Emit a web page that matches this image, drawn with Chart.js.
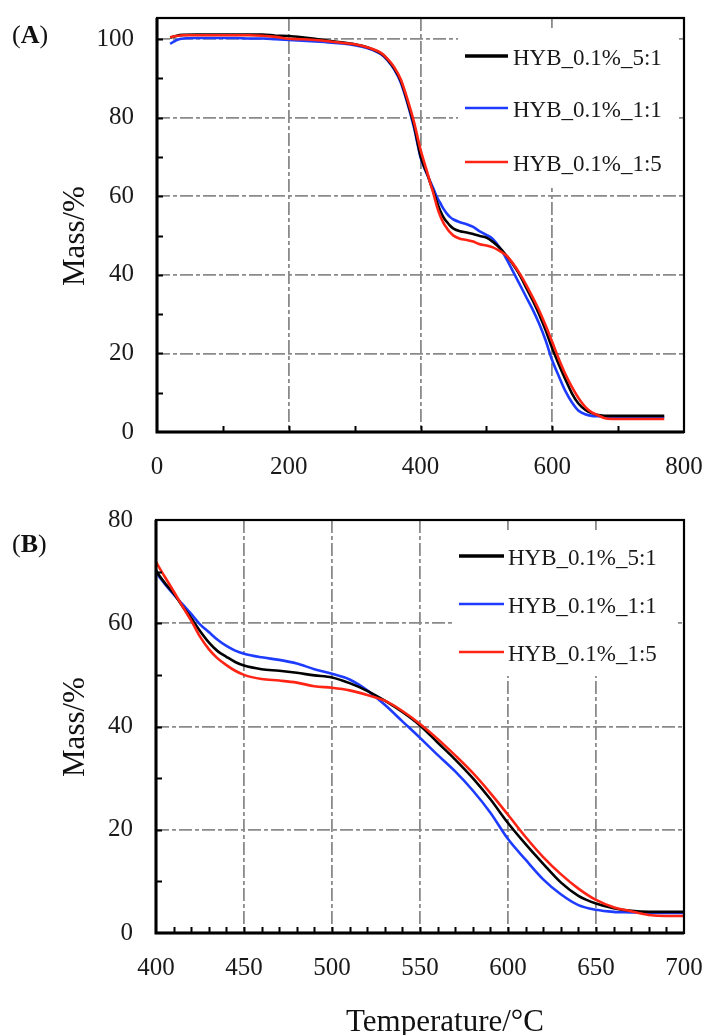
<!DOCTYPE html>
<html>
<head>
<meta charset="utf-8">
<script src="https://cdn.jsdelivr.net/npm/chart.js@4/dist/chart.umd.min.js"></script>
<style>
  html, body { margin: 0; padding: 0; background: #ffffff; }
  #wrap { position: relative; width: 707px; height: 1035px; overflow: hidden; }
  canvas { position: absolute; left: 0; }
</style>
</head>
<body>
<div id="wrap">
  <canvas id="chartA" width="707" height="490" style="top:0px"></canvas>
  <canvas id="chartB" width="707" height="545" style="top:490px"></canvas>
</div>
<script>
// TGA mass-loss curves of the three HYB_0.1% blends
const temperature = [20, 30, 40, 60, 80, 100, 120, 140, 160, 180, 200,
  220, 240, 260, 280, 300, 320, 340,
  350, 360, 370, 380, 390, 400,
  405, 410, 415, 420, 425, 430, 435, 440, 445, 450,
  460, 470, 480, 490, 500, 510, 520, 530, 540, 550,
  560, 570, 580, 590, 600, 610, 620, 630, 640, 650,
  660, 670, 680, 690, 700,
  720, 740, 770];

const mass51 = [100.4, 100.9, 101.1, 101.2, 101.2, 101.2, 101.2, 101.2, 101.2, 100.9, 100.8,
  100.5, 100.1, 99.6, 99.2, 98.7, 97.9, 96.4,
  94.8, 92.6, 89.4, 84.2, 78.2, 70.3,
  67.8, 65.8, 63.3, 61.0, 58.5, 56.3, 54.6, 53.5, 52.5, 51.8,
  51.1, 50.8, 50.4, 49.9, 49.5, 48.4, 46.9, 45.0, 42.8, 40.2,
  36.9, 33.6, 30.0, 25.9, 21.3, 17.2, 13.4, 9.8, 7.2, 5.7,
  4.8, 4.3, 4.1, 4.1, 4.1,
  4.1, 4.1, 4.1];

const mass11 = [98.8, 99.8, 100.2, 100.3, 100.3, 100.3, 100.3, 100.2, 100.2, 100.0, 99.8,
  99.6, 99.4, 99.2, 98.9, 98.5, 97.7, 96.2,
  94.6, 92.3, 89.0, 83.8, 77.6, 70.0,
  67.6, 65.6, 63.7, 61.8, 59.8, 58.3, 56.8, 55.6, 54.7, 54.1,
  53.4, 52.9, 52.2, 51.1, 50.2, 49.1, 47.0, 44.2, 41.0, 37.8,
  34.5, 31.3, 27.6, 23.3, 18.2, 14.2, 10.4, 7.5, 5.4, 4.5,
  4.1, 4.0, 3.9, 3.9, 3.9,
  3.8, 3.8, 3.8];

const mass15 = [100.5, 100.8, 101.0, 101.0, 101.0, 101.0, 101.0, 101.0, 100.9, 100.6, 100.1,
  100.0, 99.8, 99.5, 99.1, 98.7, 97.9, 96.5,
  95.0, 92.9, 89.8, 84.8, 79.0, 71.9,
  69.0, 66.2, 63.3, 60.5, 57.4, 55.0, 53.2, 51.9, 50.8, 50.0,
  49.2, 48.9, 48.5, 47.8, 47.5, 47.0, 46.1, 45.0, 43.0, 40.5,
  37.6, 34.4, 31.0, 27.1, 22.9, 18.6, 14.7, 11.4, 8.6, 6.4,
  5.0, 4.2, 3.5, 3.3, 3.3,
  3.3, 3.3, 3.3];

const seriesLabels = ['HYB_0.1%_5:1', 'HYB_0.1%_1:1', 'HYB_0.1%_1:5'];
const seriesColors = ['#000000', '#1e3cff', '#ff2414'];
const seriesMass = [mass51, mass11, mass15];
const drawOrder = [1, 2, 0];

// axis ticks of the two panels
const xTicksA = [0, 200, 400, 600, 800];
const yTicksA = [0, 20, 40, 60, 80, 100];
const xTicksB = [400, 450, 500, 550, 600, 650, 700];
const yTicksB = [0, 20, 40, 60, 80];

const yTitle = 'Mass/%';
const xTitle = 'Temperature/°C';

const serif = '"Liberation Serif", "Times New Roman", serif';

function buildDatasets(lineWidth) {
  return seriesLabels.map((label, s) => ({
    label,
    data: temperature.map((t, i) => ({ x: t, y: seriesMass[s][i] })),
    borderColor: seriesColors[s],
    backgroundColor: seriesColors[s],
    borderWidth: lineWidth,
    pointRadius: 0,
    cubicInterpolationMode: 'monotone',
    fill: false,
    order: drawOrder[s]
  }));
}

function noOverflowPadding(s) {
  s.paddingTop = 0; s.paddingBottom = 0; s.paddingLeft = 0; s.paddingRight = 0;
}

function decorPlugin(cfg) {
  return {
    id: 'panelDecor',
    beforeDatasetsDraw(chart) {
      const ctx = chart.ctx;
      const b = cfg.legendBox;
      ctx.save();
      ctx.fillStyle = '#ffffff';
      ctx.fillRect(b.x, b.y, b.w, b.h);
      ctx.restore();
    },
    afterDatasetsDraw(chart) {
      const ctx = chart.ctx;
      const lg = cfg.legend;
      ctx.save();
      chart.data.datasets.forEach((ds, i) => {
        const y = lg.rows[i];
        ctx.beginPath();
        ctx.strokeStyle = ds.borderColor;
        ctx.lineWidth = i === 0 ? 3.5 : 2.5;
        ctx.moveTo(lg.x0, y);
        ctx.lineTo(lg.x1, y);
        ctx.stroke();
        ctx.fillStyle = '#1a1a1a';
        ctx.font = '23px ' + serif;
        ctx.textAlign = 'left';
        ctx.textBaseline = 'middle';
        ctx.fillText(ds.label, lg.tx, y + 3);
      });
      ctx.restore();
    },
    afterDraw(chart) {
      const ctx = chart.ctx;
      const a = chart.chartArea;
      const xs = chart.scales.x, ys = chart.scales.y;
      ctx.save();
      // inward tick marks
      ctx.strokeStyle = '#000000';
      ctx.lineWidth = 2;
      ctx.beginPath();
      for (let v = xs.min + cfg.xMinor; v < xs.max - 1e-6; v += cfg.xMinor) {
        const px = Math.round(xs.getPixelForValue(v)) + 0.5;
        ctx.moveTo(px, a.bottom);
        ctx.lineTo(px, a.bottom - cfg.tickLen);
      }
      for (let v = ys.min + cfg.yMinor; v < ys.max - 1e-6; v += cfg.yMinor) {
        const py = Math.round(ys.getPixelForValue(v)) + 0.5;
        ctx.moveTo(a.left, py);
        ctx.lineTo(a.left + cfg.tickLen, py);
      }
      ctx.stroke();
      // frame
      ctx.lineWidth = 2.2;
      ctx.strokeRect(a.left, a.top, a.right - a.left, a.bottom - a.top);
      ctx.lineWidth = 3;
      ctx.beginPath();
      ctx.moveTo(a.left, a.top);
      ctx.lineTo(a.left, a.bottom);
      ctx.lineTo(a.right, a.bottom);
      ctx.stroke();
      // panel tag
      ctx.fillStyle = '#111111';
      ctx.textBaseline = 'middle';
      ctx.textAlign = 'left';
      ctx.font = '26px ' + serif;
      let tx = cfg.tag.x;
      ctx.fillText('(', tx, cfg.tag.y);
      tx += ctx.measureText('(').width;
      ctx.font = 'bold 26px ' + serif;
      ctx.fillText(cfg.tag.text, tx, cfg.tag.y);
      tx += ctx.measureText(cfg.tag.text).width;
      ctx.font = '26px ' + serif;
      ctx.fillText(')', tx, cfg.tag.y);
      // y axis title
      ctx.save();
      ctx.translate(cfg.yTitlePos.x, cfg.yTitlePos.y);
      ctx.rotate(-Math.PI / 2);
      ctx.font = '31px ' + serif;
      ctx.textAlign = 'center';
      ctx.textBaseline = 'middle';
      ctx.fillText(yTitle, 0, 0);
      ctx.restore();
      // x axis title
      if (cfg.xTitlePos) {
        ctx.font = '31px ' + serif;
        ctx.textAlign = 'center';
        ctx.textBaseline = 'alphabetic';
        ctx.fillText(xTitle, cfg.xTitlePos.x, cfg.xTitlePos.y);
      }
      ctx.restore();
    }
  };
}

function makePanel(id, cfg) {
  return new Chart(document.getElementById(id), {
    type: 'line',
    data: { datasets: buildDatasets(cfg.lineWidth) },
    options: {
      responsive: false,
      animation: false,
      devicePixelRatio: 1,
      layout: { padding: { left: 0, right: cfg.padRight, top: cfg.padTop, bottom: 0 } },
      plugins: { legend: { display: false }, tooltip: { enabled: false } },
      scales: {
        x: {
          type: 'linear',
          min: cfg.xMin, max: cfg.xMax,
          afterBuildTicks: s => { s.ticks = cfg.xTicks.map(v => ({ value: v })); },
          afterFit: s => { s.height = cfg.xAxisHeight; noOverflowPadding(s); },
          grid: { color: '#8a8a8a', lineWidth: 1.8, drawTicks: false },
          border: { display: false, dash: [13, 3, 4, 3] },
          ticks: { font: { family: serif, size: 25 }, color: '#1a1a1a', padding: 20, maxRotation: 0, autoSkip: false }
        },
        y: {
          type: 'linear',
          min: cfg.yMin, max: cfg.yMax,
          afterBuildTicks: s => { s.ticks = cfg.yTicks.map(v => ({ value: v })); },
          afterFit: s => { s.width = cfg.yAxisWidth; noOverflowPadding(s); },
          grid: { color: '#8a8a8a', lineWidth: 1.8, drawTicks: false },
          border: { display: false, dash: [13, 3, 4, 3] },
          ticks: { font: { family: serif, size: 25 }, color: '#1a1a1a', padding: 23, autoSkip: false }
        }
      }
    },
    plugins: [decorPlugin(cfg)]
  });
}

makePanel('chartA', {
  lineWidth: 2.6,
  xMin: 0, xMax: 800, yMin: 0, yMax: 105.4,
  xTicks: xTicksA, yTicks: yTicksA,
  xMinor: 100, yMinor: 10, tickLen: 6,
  padTop: 18, padRight: 23, yAxisWidth: 157, xAxisHeight: 58,
  legendBox: { x: 458, y: 28, w: 220, h: 160 },
  legend: { x0: 465, x1: 508, tx: 513, rows: [56, 108, 162] },
  tag: { text: 'A', x: 12, y: 36 },
  yTitlePos: { x: 76, y: 236 },
  xTitlePos: null
});

makePanel('chartB', {
  lineWidth: 2.6,
  xMin: 400, xMax: 700, yMin: 0, yMax: 80,
  xTicks: xTicksB, yTicks: yTicksB,
  xMinor: 10, yMinor: 10, tickLen: 6,
  padTop: 30, padRight: 23, yAxisWidth: 156, xAxisHeight: 102,
  legendBox: { x: 452, y: 40, w: 223, h: 146 },
  legend: { x0: 459, x1: 504, tx: 508, rows: [556, 604, 652].map(v => v - 490) },
  tag: { text: 'B', x: 12, y: 545 - 490 },
  yTitlePos: { x: 76, y: 727 - 490 },
  xTitlePos: { x: 445, y: 1031 - 490 }
});
</script>
</body>
</html>
